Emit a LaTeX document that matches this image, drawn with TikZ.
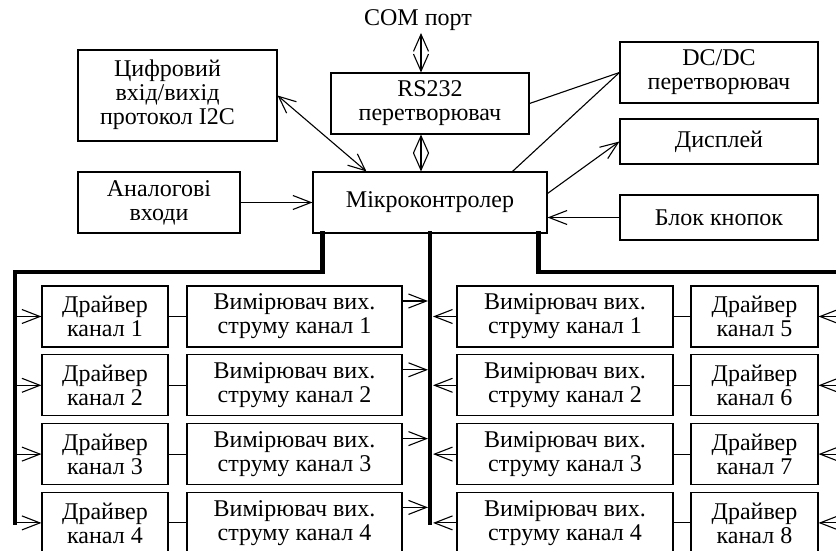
\documentclass[tikz,border=0pt]{standalone}
\usepackage{fontspec}
\setmainfont{Liberation Serif}
\usetikzlibrary{arrows.meta,calc}
\newcommand\diagfont{\fontsize{24}{24}\selectfont}
\begin{document}
\begin{tikzpicture}[x=1pt,y=-1pt,
  box/.style={draw,line width=1.1pt,inner sep=0pt,align=center,font=\diagfont},
  wire/.style={line width=1.1pt},
  arr/.style={line width=1.1pt,-{Straight Barb[length=18pt,width=14pt,line width=1.1pt]}},
  dbl/.style={line width=1.1pt,{Straight Barb[length=17pt,width=15pt,line width=1.1pt]}-{Straight Barb[length=17pt,width=15pt,line width=1.1pt]}},
  bus/.style={line width=4.5pt,line join=miter,line cap=rect}]
\useasboundingbox (0,0) rectangle (836,551);
\clip (0,0) rectangle (836,551);
\fill[white] (0,0) rectangle (836,551);

% top blocks
\node[draw,line width=1.1pt,inner sep=0pt,font=\diagfont,minimum width=199pt,minimum height=91pt] (dig) at (177.5,95.5) {\begin{tabular}{@{}c@{}}Цифровий\\вхід/вихід\\протокол I2C\end{tabular}\hspace*{20pt}};
\node[box,minimum width=162pt,minimum height=61pt] (ana) at (159,202.5) {Аналогові\\входи};
\node[box,minimum width=234pt,minimum height=61pt] (mcu) at (430,202.5) {Мікроконтролер};
\node[box,minimum width=198pt,minimum height=61pt] (rs) at (430,103.5) {RS232\\перетворювач};
\node[font=\diagfont,inner sep=0pt] (com) at (418,20) {COM порт};
\node[box,minimum width=198pt,minimum height=61pt] (dc) at (719,72.5) {DC/DC\\перетворювач};
\node[box,minimum width=198pt,minimum height=45pt] (disp) at (719,141.5) {Дисплей};
\node[box,minimum width=198pt,minimum height=45pt] (btn) at (719,217.5) {Блок кнопок};

\coordinate (ax) at (421,0);
\coordinate (comb) at (421,33);
\draw[dbl] (comb) -- (rs.north -| ax);
\draw[dbl] (rs.south -| ax) -- (mcu.north -| ax);
\draw[dbl] (dig.east) -- ($(mcu.north west)+(54,0)$);
\draw[arr] (ana.east) -- (ana.east -| mcu.west);
\draw[wire] (rs.east) -- (dc.west);
\draw[wire] ($(mcu.north west)+(200,0)$) -- (dc.west);
\draw[arr] ($(mcu.north east)+(0,22)$) -- (disp.west);
\draw[arr] (btn.west) -- (btn.west -| mcu.east);

% buses
\coordinate (lbt) at (15,523);
\coordinate (cbt) at (430,523);
\draw[bus] ($(mcu.south west)+(10,0)$) |- (15,272) -- (lbt);
\draw[bus] (mcu.south -| cbt) -- (cbt);
\draw[bus] ($(mcu.south east)+(-9,0)$) |- (845,272);

% channel rows
\foreach \i/\d in {1/5,2/6,3/7,4/8}{
  \pgfmathsetmacro\cy{316.5+68.8*(\i-1)}
  \pgfmathsetmacro\ty{301+68.8*(\i-1)}
  \node[box,minimum width=126pt,minimum height=61pt] (dl\i) at (105,\cy) {Драйвер\\канал \i};
  \node[box,minimum width=215pt,minimum height=61pt] (ml\i) at (294.5,\cy) {Вимірювач вих.\\струму канал \i};
  \node[box,minimum width=216pt,minimum height=61pt] (mr\i) at (565,\cy) {Вимірювач вих.\\струму канал \i};
  \node[box,minimum width=127pt,minimum height=61pt] (dr\i) at (754.5,\cy) {Драйвер\\канал \d};
  \draw[wire] (dl\i) -- (ml\i);
  \draw[wire] (mr\i) -- (dr\i);
  \coordinate (lb\i) at (15,\cy);
  \coordinate (rb\i) at (836,\cy);
  \coordinate (cl\i) at (428,\ty);
  \coordinate (cr\i) at (433,\cy);
  \draw[arr] (lb\i) -- (dl\i.west);
  \draw[arr] (rb\i) -- (dr\i.east);
  \draw[arr] (cl\i -| ml\i.east) -- (cl\i);
  \draw[arr] (mr\i.west) -- (cr\i);
}
\end{tikzpicture}
\end{document}
